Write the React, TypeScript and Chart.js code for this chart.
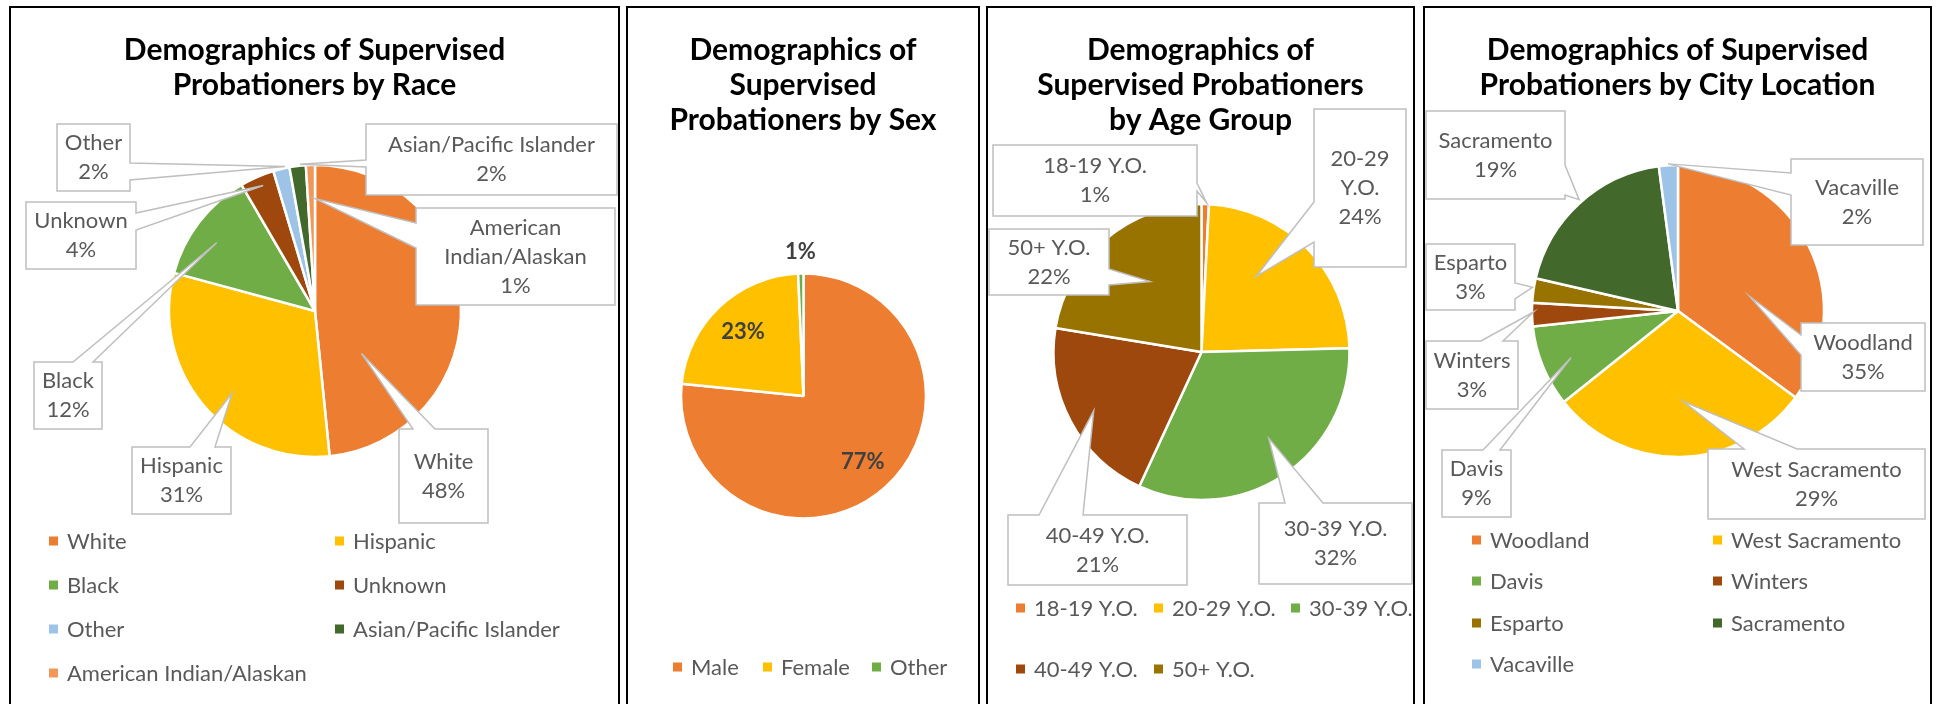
import React, { useEffect, useRef } from "react";
import { Chart, registerables } from "chart.js";

Chart.register(...registerables);

// ---------------- Data ----------------
const raceTitle = ["Demographics of Supervised", "Probationers by Race"];
const raceLabels = ["White", "Hispanic", "Black", "Unknown", "Other", "Asian/Pacific Islander", "American Indian/Alaskan"];
const raceValues = [48.4, 30.8, 12.4, 3.8, 1.8, 1.8, 1.0];
const raceColors = ["#ED7D31", "#FFC000", "#70AD47", "#9E480E", "#9DC3E6", "#43682B", "#F1975A"];

const sexTitle = ["Demographics of", "Supervised", "Probationers by Sex"];
const sexLabels = ["Male", "Female", "Other"];
const sexValues = [76.6, 22.7, 0.7];
const sexColors = ["#ED7D31", "#FFC000", "#70AD47"];

const ageTitle = ["Demographics of", "Supervised Probationers", "by Age Group"];
const ageLabels = ["18-19 Y.O.", "20-29 Y.O.", "30-39 Y.O.", "40-49 Y.O.", "50+ Y.O."];
const ageValues = [0.8, 23.8, 32.3, 20.7, 22.4];
const ageColors = ["#ED7D31", "#FFC000", "#70AD47", "#9E480E", "#997300"];

const cityTitle = ["Demographics of Supervised", "Probationers by City Location"];
const cityLabels = ["Woodland", "West Sacramento", "Davis", "Winters", "Esparto", "Sacramento", "Vacaville"];
const cityValues = [35.1, 29.2, 9.0, 2.6, 2.7, 19.3, 2.1];
const cityColors = ["#ED7D31", "#FFC000", "#70AD47", "#9E480E", "#997300", "#43682B", "#9DC3E6"];

// ---------------- Layout / style ----------------
const FONT = "Lato, 'Open Sans', sans-serif";
const TOP = 6;
const PANEL_H = 698;
const TITLE_SIZE = 30;
const LABEL_SIZE = 22;
const TEXT_GRAY = "#595959";
const BOX_GRAY = "#BFBFBF";

type Callout = {
  i: number;
  box: [number, number, number, number];
  edge: "top" | "left" | "right";
  base: [number, number];
  t: number;
  f: number;
  split?: boolean;
};

type PanelCfg = {
  x: number;
  w: number;
  title: string[];
  labels: string[];
  values: number[];
  colors: string[];
  cx: number;
  cy: number;
  r: number;
  titleY: number;
  titleGap: number;
  legendCols: number[];
  legendRows: number[];
  callouts: Callout[];
  inside?: number[];
};

const panels: PanelCfg[] = [
  {
    x: 9, w: 611, title: raceTitle, labels: raceLabels, values: raceValues, colors: raceColors,
    cx: 315, cy: 311, r: 146, titleY: 50, titleGap: 35,
    legendCols: [49, 335], legendRows: [541, 585, 629, 673],
    callouts: [
      { i: 4, box: [57, 124, 130, 191], edge: "right", base: [163, 180], t: 0.75, f: 1.01 },
      { i: 5, box: [366, 124, 617, 195], edge: "left", base: [160, 167], t: 0.66, f: 1.01 },
      { i: 3, box: [26, 202, 136, 269], edge: "right", base: [213, 230], t: 0.57, f: 0.93 },
      { i: 6, box: [416, 208, 615, 305], edge: "left", base: [223, 248], t: 1.0, f: 0.77, split: true },
      { i: 2, box: [34, 362, 102, 429], edge: "top", base: [73, 93], t: 0.44, f: 0.82 },
      { i: 1, box: [132, 447, 231, 514], edge: "top", base: [190, 215], t: 0.46, f: 0.8 },
      { i: 0, box: [399, 429, 488, 523], edge: "top", base: [413, 435], t: 0.76, f: 0.43 },
    ],
  },
  {
    x: 626, w: 354, title: sexTitle, labels: sexLabels, values: sexValues, colors: sexColors,
    cx: 803.5, cy: 396, r: 122.5, titleY: 50, titleGap: 35,
    legendCols: [673, 763, 872], legendRows: [667],
    callouts: [],
    inside: [0.72, 0.72, 1.18],
  },
  {
    x: 986, w: 429, title: ageTitle, labels: ageLabels, values: ageValues, colors: ageColors,
    cx: 1201.5, cy: 352, r: 148, titleY: 50, titleGap: 35,
    legendCols: [1016, 1154, 1291], legendRows: [608, 669],
    callouts: [
      { i: 0, box: [993, 145, 1197, 216], edge: "right", base: [183, 191], t: 0.66, f: 1.01 },
      { i: 1, box: [1314, 109, 1406, 267], edge: "left", base: [202, 242], t: 0.385, f: 0.63, split: true },
      { i: 4, box: [989, 229, 1109, 295], edge: "right", base: [269, 285], t: 0.55, f: 0.59 },
      { i: 3, box: [1008, 515, 1187, 585], edge: "top", base: [1039, 1083], t: 0.49, f: 0.83 },
      { i: 2, box: [1259, 503, 1412, 584], edge: "top", base: [1285, 1323], t: 0.46, f: 0.74 },
    ],
  },
  {
    x: 1423, w: 509, title: cityTitle, labels: cityLabels, values: cityValues, colors: cityColors,
    cx: 1678, cy: 311, r: 146, titleY: 50, titleGap: 35,
    legendCols: [1472, 1713], legendRows: [540, 581, 623, 664],
    callouts: [
      { i: 5, box: [1426, 111, 1565, 199], edge: "right", base: [165, 195], t: 0.51, f: 1.02 },
      { i: 6, box: [1791, 159, 1923, 245], edge: "left", base: [173, 195], t: 0.49, f: 1.01 },
      { i: 4, box: [1426, 244, 1515, 310], edge: "right", base: [283, 299], t: 0.62, f: 1.01 },
      { i: 3, box: [1426, 341, 1518, 409], edge: "top", base: [1481, 1503], t: 0.61, f: 0.99 },
      { i: 2, box: [1442, 450, 1511, 517], edge: "top", base: [1483, 1500], t: 0.46, f: 0.8 },
      { i: 0, box: [1801, 323, 1925, 391], edge: "left", base: [335, 355], t: 0.62, f: 0.5 },
      { i: 1, box: [1708, 449, 1925, 519], edge: "top", base: [1744, 1797], t: 0.48, f: 0.62 },
    ],
  },
];

function PiePanel({ cfg }: { cfg: PanelCfg }) {
  const ref = useRef<HTMLCanvasElement>(null);

  useEffect(() => {
    const canvas = ref.current;
    if (!canvas) return;
    const ox = cfg.x;
    const oy = TOP;
    const lx = cfg.cx - ox;
    const ly = cfg.cy - oy;
    const s = cfg.r + 3;
    const total = cfg.values.reduce((a, b) => a + b, 0);
    const pct = (v: number) => Math.round((v / total) * 100) + "%";

    const decor = {
      id: "decor",
      afterDraw(chart: any) {
        const ctx: CanvasRenderingContext2D = chart.ctx;
        const meta = chart.getDatasetMeta(0);
        ctx.save();

        // Title
        ctx.fillStyle = "#000000";
        ctx.font = `bold ${TITLE_SIZE}px ${FONT}`;
        ctx.textAlign = "center";
        ctx.textBaseline = "middle";
        cfg.title.forEach((t, k) => {
          ctx.fillText(t, cfg.w / 2, cfg.titleY - oy + k * cfg.titleGap);
        });

        // Inside data labels (sex chart)
        if (cfg.inside) {
          ctx.fillStyle = "#404040";
          ctx.font = `bold ${LABEL_SIZE}px ${FONT}`;
          meta.data.forEach((arc: any, k: number) => {
            const mid = (arc.startAngle + arc.endAngle) / 2;
            const f = cfg.inside![k];
            const px = arc.x + Math.cos(mid) * f * arc.outerRadius;
            const py = arc.y + Math.sin(mid) * f * arc.outerRadius;
            ctx.fillText(pct(cfg.values[k]), px, py);
          });
        }

        // Callouts
        cfg.callouts.forEach((c) => {
          const arc: any = meta.data[c.i];
          const a = arc.startAngle + c.t * (arc.endAngle - arc.startAngle);
          const tx = arc.x + Math.cos(a) * c.f * arc.outerRadius;
          const ty = arc.y + Math.sin(a) * c.f * arc.outerRadius;
          const x0 = c.box[0] - ox, y0 = c.box[1] - oy, x1 = c.box[2] - ox, y1 = c.box[3] - oy;
          ctx.beginPath();
          if (c.edge === "top") {
            const a0 = c.base[0] - ox, b0 = c.base[1] - ox;
            ctx.moveTo(x0, y0);
            ctx.lineTo(a0, y0);
            ctx.lineTo(tx, ty);
            ctx.lineTo(b0, y0);
            ctx.lineTo(x1, y0);
            ctx.lineTo(x1, y1);
            ctx.lineTo(x0, y1);
          } else if (c.edge === "right") {
            const a0 = c.base[0] - oy, b0 = c.base[1] - oy;
            ctx.moveTo(x0, y0);
            ctx.lineTo(x1, y0);
            ctx.lineTo(x1, a0);
            ctx.lineTo(tx, ty);
            ctx.lineTo(x1, b0);
            ctx.lineTo(x1, y1);
            ctx.lineTo(x0, y1);
          } else {
            const a0 = c.base[0] - oy, b0 = c.base[1] - oy;
            ctx.moveTo(x0, y0);
            ctx.lineTo(x1, y0);
            ctx.lineTo(x1, y1);
            ctx.lineTo(x0, y1);
            ctx.lineTo(x0, b0);
            ctx.lineTo(tx, ty);
            ctx.lineTo(x0, a0);
          }
          ctx.closePath();
          ctx.fillStyle = "#FFFFFF";
          ctx.fill();
          ctx.strokeStyle = BOX_GRAY;
          ctx.lineWidth = 1.5;
          ctx.lineJoin = "miter";
          ctx.stroke();

          const name = cfg.labels[c.i];
          const lines = (c.split ? name.split(" ") : [name]).concat([pct(cfg.values[c.i])]);
          ctx.fillStyle = TEXT_GRAY;
          ctx.font = `${LABEL_SIZE}px ${FONT}`;
          ctx.textAlign = "center";
          ctx.textBaseline = "middle";
          const lh = 29;
          const cyb = (y0 + y1) / 2;
          const cxb = (x0 + x1) / 2;
          lines.forEach((ln, k) => {
            ctx.fillText(ln, cxb, cyb + (k - (lines.length - 1) / 2) * lh);
          });
        });

        // Legend
        ctx.font = `${LABEL_SIZE}px ${FONT}`;
        ctx.textAlign = "left";
        ctx.textBaseline = "middle";
        const ncol = cfg.legendCols.length;
        cfg.labels.forEach((lab, k) => {
          const col = k % ncol;
          const row = Math.floor(k / ncol);
          const lxp = cfg.legendCols[col] - ox;
          const lyp = cfg.legendRows[row] - oy;
          ctx.fillStyle = cfg.colors[k];
          ctx.fillRect(lxp, lyp - 4.5, 9, 9);
          ctx.fillStyle = TEXT_GRAY;
          ctx.fillText(lab, lxp + 18, lyp + 1);
        });

        ctx.restore();
      },
    };

    const chart = new Chart(canvas, {
      type: "pie",
      data: {
        labels: cfg.labels,
        datasets: [
          {
            data: cfg.values,
            backgroundColor: cfg.colors,
            borderColor: "#FFFFFF",
            borderWidth: 2.5,
            radius: cfg.r,
          } as any,
        ],
      },
      options: {
        responsive: false,
        animation: false,
        events: [],
        layout: {
          padding: {
            left: lx - s,
            right: cfg.w - lx - s,
            top: ly - s,
            bottom: PANEL_H - ly - s,
          },
        },
        plugins: {
          legend: { display: false },
          title: { display: false },
          tooltip: { enabled: false },
        },
      },
      plugins: [decor],
    });
    return () => chart.destroy();
  }, [cfg]);

  return (
    <>
      <canvas
        ref={ref}
        width={cfg.w}
        height={PANEL_H}
        style={{ position: "absolute", left: cfg.x, top: TOP, width: cfg.w, height: PANEL_H }}
      />
      <div
        style={{
          position: "absolute",
          left: cfg.x,
          top: TOP,
          width: cfg.w,
          height: 760,
          border: "2px solid #000",
          boxSizing: "border-box",
          pointerEvents: "none",
        }}
      />
    </>
  );
}

export default function App() {
  return (
    <div
      style={{
        position: "fixed",
        left: 0,
        top: 0,
        width: 1939,
        height: 704,
        overflow: "hidden",
        background: "#FFFFFF",
      }}
    >
      {panels.map((p, k) => (
        <PiePanel key={k} cfg={p} />
      ))}
    </div>
  );
}
